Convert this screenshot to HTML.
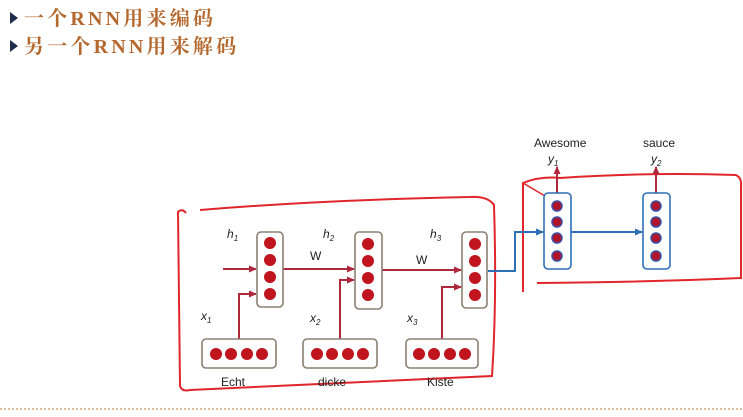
<!DOCTYPE html>
<html><head><meta charset="utf-8"><style>
html,body{margin:0;padding:0;background:#fff;width:743px;height:417px;overflow:hidden}
svg{display:block}
.t{font-family:"Liberation Serif","Noto Serif CJK SC",serif;font-size:20px;fill:#b4682e;font-weight:bold;letter-spacing:3.2px}
.s{font-family:"Liberation Sans",sans-serif;font-size:12px;fill:#222}
.i{font-family:"Liberation Sans",sans-serif;font-size:12px;font-style:italic;fill:#222}
</style></head><body>
<svg width="743" height="417" viewBox="0 0 743 417" xmlns="http://www.w3.org/2000/svg">
<defs>
<marker id="ar" markerWidth="8" markerHeight="8" refX="7" refY="4" orient="auto" markerUnits="userSpaceOnUse"><path d="M0,0.5 L8,4 L0,7.5 Z" fill="#b0283c"/></marker>
<marker id="ab" markerWidth="8" markerHeight="8" refX="7" refY="4" orient="auto" markerUnits="userSpaceOnUse"><path d="M0,0.5 L8,4 L0,7.5 Z" fill="#2f6fb5"/></marker>
</defs>
<path d="M10,12 L18,18 L10,24 Z" fill="#1f2d4a"/>
<text x="24" y="25" class="t">一个RNN用来编码</text>
<path d="M10,40 L18,46 L10,52 Z" fill="#1f2d4a"/>
<text x="24" y="53" class="t">另一个RNN用来解码</text>

<path d="M186,213 Q182,208 178,212 L180,386 Q182,392 190,390 Q350,382 492,376 Q497,300 494,205 Q488,196 470,197 Q320,200 200,210" fill="none" stroke="#e0262a" stroke-width="2"/>
<path d="M523,292 L523,183 Q540,176 560,178 Q650,172 736,175 Q742,178 741,186 L741,278 Q650,282 537,283" fill="none" stroke="#e0262a" stroke-width="2"/>
<path d="M523,183 L545,196" fill="none" stroke="#e0262a" stroke-width="1.5"/>

<g stroke="#b0283c" stroke-width="2" fill="none">
<line x1="223" y1="269" x2="256" y2="269" marker-end="url(#ar)"/>
<line x1="283" y1="269" x2="354" y2="269" marker-end="url(#ar)"/>
<line x1="382" y1="270" x2="461" y2="270" marker-end="url(#ar)"/>
<path d="M239,339 L239,294 L256,294" marker-end="url(#ar)"/>
<path d="M340,339 L340,280 L354,280" marker-end="url(#ar)"/>
<path d="M442,339 L442,287 L461,287" marker-end="url(#ar)"/>
<line x1="557" y1="193" x2="557" y2="167" marker-end="url(#ar)"/>
<line x1="656" y1="193" x2="656" y2="167" marker-end="url(#ar)"/>
</g>
<g stroke="#2f6fb5" stroke-width="2" fill="none">
<path d="M488,271 L515,271 L515,232 L543,232" marker-end="url(#ab)"/>
<line x1="571" y1="232" x2="642" y2="232" marker-end="url(#ab)"/>
</g>

<g fill="#fff" stroke="#8a8070" stroke-width="1.6">
<rect x="257" y="232" width="26" height="75" rx="4"/>
<rect x="355" y="232" width="27" height="77" rx="4"/>
<rect x="462" y="232" width="25" height="76" rx="4"/>
<rect x="202" y="339" width="74" height="29" rx="4"/>
<rect x="303" y="339" width="74" height="29" rx="4"/>
<rect x="406" y="339" width="72" height="29" rx="4"/>
</g>
<g fill="#c0141e">
<circle cx="270" cy="243" r="6"/><circle cx="270" cy="260" r="6"/><circle cx="270" cy="277" r="6"/><circle cx="270" cy="294" r="6"/>
<circle cx="368" cy="244" r="6"/><circle cx="368" cy="261" r="6"/><circle cx="368" cy="278" r="6"/><circle cx="368" cy="295" r="6"/>
<circle cx="475" cy="244" r="6"/><circle cx="475" cy="261" r="6"/><circle cx="475" cy="278" r="6"/><circle cx="475" cy="295" r="6"/>
<circle cx="216" cy="354" r="6"/><circle cx="231" cy="354" r="6"/><circle cx="247" cy="354" r="6"/><circle cx="262" cy="354" r="6"/>
<circle cx="317" cy="354" r="6"/><circle cx="332" cy="354" r="6"/><circle cx="348" cy="354" r="6"/><circle cx="363" cy="354" r="6"/>
<circle cx="419" cy="354" r="6"/><circle cx="434" cy="354" r="6"/><circle cx="450" cy="354" r="6"/><circle cx="465" cy="354" r="6"/>
</g>

<g fill="#fff" stroke="#2f6fb5" stroke-width="1.6">
<rect x="544" y="193" width="27" height="76" rx="4"/>
<rect x="643" y="193" width="27" height="76" rx="4"/>
</g>
<g fill="#b0142a" stroke="#3a4fa8" stroke-width="1.5">
<circle cx="557" cy="206" r="5"/><circle cx="557" cy="222" r="5"/><circle cx="557" cy="238" r="5"/><circle cx="557" cy="256" r="5"/>
<circle cx="656" cy="206" r="5"/><circle cx="656" cy="222" r="5"/><circle cx="656" cy="238" r="5"/><circle cx="656" cy="256" r="5"/>
</g>

<text x="227" y="238" class="i">h<tspan font-size="8" dy="3">1</tspan></text>
<text x="323" y="238" class="i">h<tspan font-size="8" dy="3">2</tspan></text>
<text x="430" y="238" class="i">h<tspan font-size="8" dy="3">3</tspan></text>
<text x="310" y="260" class="s">W</text>
<text x="416" y="264" class="s">W</text>
<text x="201" y="320" class="i">x<tspan font-size="8" dy="3">1</tspan></text>
<text x="310" y="322" class="i">x<tspan font-size="8" dy="3">2</tspan></text>
<text x="407" y="322" class="i">x<tspan font-size="8" dy="3">3</tspan></text>
<text x="221" y="386" class="s">Echt</text>
<text x="318" y="386" class="s">dicke</text>
<text x="427" y="386" class="s">Kiste</text>
<text x="534" y="147" class="s">Awesome</text>
<text x="643" y="147" class="s">sauce</text>
<text x="548" y="163" class="i">y<tspan font-size="8" dy="3">1</tspan></text>
<text x="651" y="163" class="i">y<tspan font-size="8" dy="3">2</tspan></text>

<line x1="0" y1="409" x2="743" y2="409" stroke="#e0a878" stroke-width="1.5" stroke-dasharray="2,2"/>
</svg>
</body></html>
